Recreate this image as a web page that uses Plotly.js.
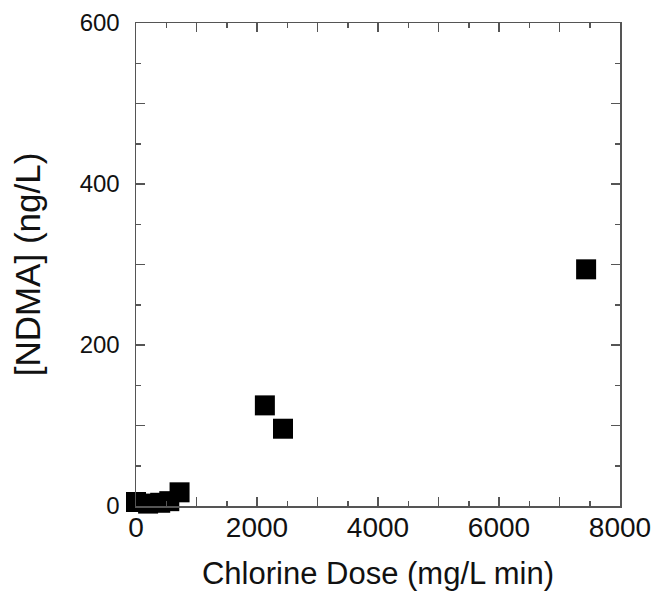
<!DOCTYPE html>
<html>
<head>
<meta charset="utf-8">
<script src="https://cdn.plot.ly/plotly-3.0.1.min.js"></script>
<style>html,body{margin:0;padding:0;background:#fff;}#chart{width:651px;height:594px;}</style>
</head>
<body>
<div id="chart"></div>
<script>
const chlorineDose = [0, 200, 400, 550, 720, 2130, 2430, 7440];
const ndmaConc = [5, 3, 4, 6, 17, 125, 96, 294];
const xTickVals = [0, 1000, 2000, 3000, 4000, 5000, 6000, 7000, 8000];
const xTickText = ['0', '', '2000', '', '4000', '', '6000', '', '8000'];
const yTickVals = [0, 100, 200, 300, 400, 500, 600];
const yTickText = ['0', '', '200', '', '400', '', '600'];

const trace = {
  x: chlorineDose,
  y: ndmaConc,
  type: 'scatter',
  mode: 'markers',
  cliponaxis: false,
  marker: {symbol: 'square', size: 20, color: '#000', line: {width: 0}}
};

const axisCommon = {
  showgrid: false,
  zeroline: false,
  showline: true,
  linecolor: '#555',
  linewidth: 1.5,
  mirror: 'allticks',
  ticks: 'inside',
  ticklen: 9,
  tickwidth: 1.5,
  tickcolor: '#555',
  tickmode: 'array',
  ticklabeloverflow: 'allow'
};

const layout = {
  width: 651,
  height: 594,
  margin: {l: 136, r: 31, t: 23, b: 88},
  paper_bgcolor: '#fff',
  plot_bgcolor: '#fff',
  font: {family: '"Liberation Sans", Arial, sans-serif', color: '#111'},
  showlegend: false,
  xaxis: Object.assign({}, axisCommon, {
    range: [0, 8000],
    tickvals: xTickVals,
    ticktext: xTickText,
    tickfont: {size: 28},
    ticklabelstandoff: -4,
    minor: {dtick: 500, ticks: 'inside', ticklen: 5, tickwidth: 1.5, tickcolor: '#555'},
    title: {text: 'Chlorine Dose (mg/L min)', font: {size: 31}, standoff: 20}
  }),
  yaxis: Object.assign({}, axisCommon, {
    range: [0, 600],
    tickvals: yTickVals,
    ticktext: yTickText,
    tickfont: {size: 24},
    ticklabelstandoff: 10,
    minor: {dtick: 50, ticks: 'inside', ticklen: 5, tickwidth: 1.5, tickcolor: '#555'},
    title: {text: '[NDMA] (ng/L)', font: {size: 35}, standoff: 28}
  })
};

Plotly.newPlot('chart', [trace], layout, {displayModeBar: false, staticPlot: true});
</script>
</body>
</html>
